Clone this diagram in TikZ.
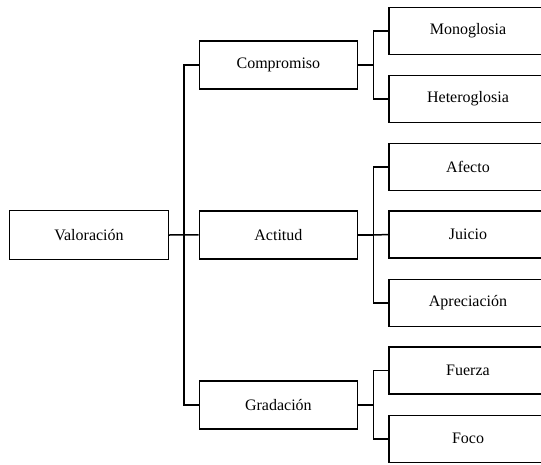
\documentclass[tikz,border=0pt]{standalone}
\usepackage{fontspec}
\setmainfont{Liberation Serif}
\begin{document}
\begin{tikzpicture}[x=1pt,y=-1pt,
  box/.style={draw,line width=1.5pt,minimum width=158pt,minimum height=48pt,inner sep=0pt,font=\fontsize{16}{18}\selectfont},
  conn/.style={line width=1.5pt}]
\clip (0,0) rectangle (541,464);
\useasboundingbox (0,0) rectangle (541,464);
\node[box,minimum width=158.6pt,minimum height=48.6pt] (V) at (89,235) {Valoración};
\node[box] (C) at (278.4,64.8) {Compromiso};
\node[box] (A) at (278.4,234.8) {Actitud};
\node[box] (G) at (278.4,405) {Gradación};
\node[box,minimum height=47pt] (M) at (468,30.8) {Monoglosia};
\node[box,minimum height=47pt] (H) at (468,98.8) {Heteroglosia};
\node[box,minimum height=47pt] (Af) at (468,167) {Afecto};
\node[box,minimum height=47pt] (J) at (468,234.7) {Juicio};
\node[box,minimum height=47pt] (Ap) at (468,302.8) {Apreciación};
\node[box,minimum height=47pt] (F) at (468,370.5) {Fuerza};
\node[box,minimum height=47pt] (Fo) at (468,438.8) {Foco};
\coordinate (j0) at (184,235);
\coordinate (j1) at (373.5,64.8);
\coordinate (j2) at (373.5,234.8);
\coordinate (j3) at (373.5,405);
\draw[conn] (V.east) -- (A.west);
\draw[conn] (C.west) -| (j0) |- (G.west);
\draw[conn] (C.east) -- (j1);
\draw[conn] (M.west) -| (j1) |- (H.west);
\draw[conn] (A.east) -- (j2);
\draw[conn] (Af.west) -| (j2) |- (Ap.west);
\draw[conn] (j2) -- (J.west);
\draw[conn] (G.east) -- (j3);
\draw[conn] (F.west) -| (j3) |- (Fo.west);
\end{tikzpicture}
\end{document}
